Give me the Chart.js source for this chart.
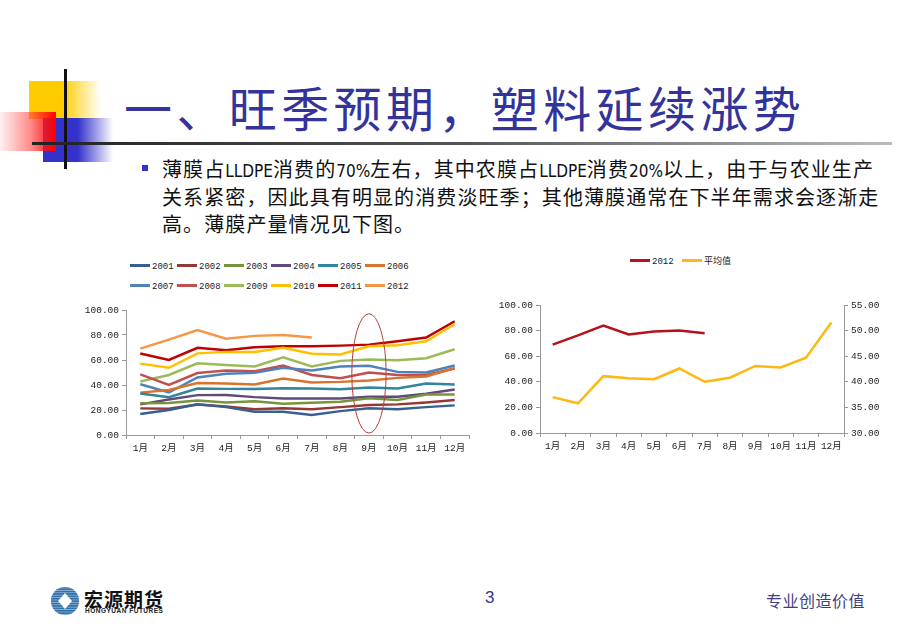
<!DOCTYPE html>
<html>
<head>
<meta charset="utf-8">
<script src="https://cdn.jsdelivr.net/npm/chart.js@4.4.0/dist/chart.umd.min.js"></script>
<style>
  body { margin: 0; background: #fff; }
  #slide { position: relative; width: 920px; height: 636px; overflow: hidden; background: #fff; font-family: "Noto Sans CJK SC", sans-serif; }
  .abs { position: absolute; }
  #yellow { left: 29px; top: 81px; width: 72px; height: 38px; background: linear-gradient(to right, #FFCC00 0%, #FFCC00 46%, rgba(255,204,0,0) 100%); }
  #blue { left: 43px; top: 118px; width: 70px; height: 44px; background: linear-gradient(to right, #3333CC 0%, #3333CC 50%, rgba(51,51,204,0) 100%); }
  #red { left: 0; top: 112px; width: 56px; height: 39px; background: linear-gradient(to right, rgba(255,0,0,0.05) 0%, rgba(255,60,60,0.6) 55%, #FF0000 100%); }
  #vline { left: 64px; top: 69px; width: 3px; height: 100px; background: #111; }
  #hline { left: 32px; top: 142px; width: 860px; height: 3px; background: linear-gradient(to right, #222 0%, #555 50%, #bbb 100%); }
  #title { left: 124px; top: 76px; font-size: 48px; letter-spacing: 4.4px; color: #333399; line-height: 60px; white-space: nowrap; }
  #bullet { left: 142px; top: 165px; width: 6px; height: 6px; background: #3333CC; }
  #body { left: 162px; top: 155px; font-size: 20px; line-height: 27.5px; color: #111; white-space: nowrap; letter-spacing: 1.1px; }
  #body .lat { font-family: "DejaVu Sans Condensed", "Liberation Sans", sans-serif; font-size: 17px; letter-spacing: 0; line-height: 16px; }
  .legend { position: absolute; font-family: "Liberation Mono", "Noto Sans CJK SC", monospace; font-size: 9px; color: #222; }
  .legend .item { position: absolute; white-space: nowrap; line-height: 12px; }
  .legend .sw { display: inline-block; width: 20px; height: 3px; vertical-align: middle; margin-right: 2px; position: relative; top: -1px; }
  #footer3 { left: 485px; top: 588px; font-size: 17px; color: #333399; font-family: "Liberation Sans", sans-serif; }
  #slogan { left: 766px; top: 588px; font-size: 16px; color: #3F3F7F; letter-spacing: 0.5px; }
  #logoText { left: 84px; top: 585px; font-size: 19px; font-weight: bold; color: #111; letter-spacing: 1px; }
  #logoSub { left: 85px; top: 607px; font-size: 6.5px; font-weight: bold; color: #222; font-family: "Liberation Sans", sans-serif; letter-spacing: 0.5px; }
</style>
</head>
<body>
<div id="slide">
  <div id="yellow" class="abs"></div>
  <div id="blue" class="abs"></div>
  <div id="red" class="abs"></div>
  <div id="vline" class="abs"></div>
  <div id="hline" class="abs"></div>
  <div id="title" class="abs">一、旺季预期，塑料延续涨势</div>
  <div id="bullet" class="abs"></div>
  <div id="body" class="abs">薄膜占<span class="lat">LLDPE</span>消费的<span class="lat">70%</span>左右，其中农膜占<span class="lat">LLDPE</span>消费<span class="lat">20%</span>以上，由于与农业生产<br>关系紧密，因此具有明显的消费淡旺季；其他薄膜通常在下半年需求会逐渐走<br>高。薄膜产量情况见下图。</div>

  <div id="legendLeft" class="legend" style="left:130px; top:261px; width:300px; height:32px;"></div>
  <div id="legendRight" class="legend" style="left:630px; top:256px; width:140px; height:14px;"></div>

  <div class="abs" style="left:75px; top:298px; width:400px; height:165px;"><canvas id="leftChart"></canvas></div>
  <div class="abs" style="left:490px; top:290px; width:400px; height:171px;"><canvas id="rightChart"></canvas></div>

  <svg class="abs" style="left:50px; top:586px;" width="30" height="30">
    <defs>
      <pattern id="stripes" width="4" height="2.4" patternUnits="userSpaceOnUse">
        <rect width="4" height="1.5" fill="#2E6DA4"/>
      </pattern>
    </defs>
    <circle cx="15" cy="15" r="14" fill="#8FB3D6"/>
    <circle cx="15" cy="15" r="14" fill="url(#stripes)"/>
    <path d="M15 7 L22 15 L15 23 L8 15 Z" fill="#fff"/>
  </svg>
  <div id="logoText" class="abs">宏源期货</div>
  <div id="logoSub" class="abs">HONGYUAN FUTURES</div>
  <div id="footer3" class="abs">3</div>
  <div id="slogan" class="abs">专业创造价值</div>
</div>

<script>
const months = ['1月', '2月', '3月', '4月', '5月', '6月', '7月', '8月', '9月', '10月', '11月', '12月'];
const years = ['2001', '2002', '2003', '2004', '2005', '2006', '2007', '2008', '2009', '2010', '2011', '2012'];

const s2001 = [16.8, 20.0, 24.5, 22.3, 18.6, 18.6, 16.0, 19.1, 21.3, 20.7, 22.3, 23.7];
const s2002 = [21.3, 21.0, 24.3, 22.9, 20.7, 21.3, 20.7, 22.3, 24.0, 24.5, 26.0, 28.0];
const s2003 = [25.4, 25.6, 27.5, 26.0, 27.0, 25.0, 25.8, 26.6, 29.3, 28.0, 32.4, 32.4];
const s2004 = [24.5, 28.4, 31.9, 32.0, 30.3, 29.3, 29.3, 29.3, 30.6, 30.6, 33.0, 36.4];
const s2005 = [33.2, 30.2, 37.2, 36.9, 36.9, 37.4, 37.2, 36.7, 38.0, 37.2, 41.2, 40.4];
const s2006 = [33.9, 36.0, 41.5, 41.2, 40.4, 45.2, 42.0, 42.5, 43.6, 45.7, 46.8, 53.5];
const s2007 = [40.6, 34.0, 46.0, 49.0, 49.7, 53.7, 51.6, 54.8, 55.3, 50.5, 50.0, 55.6];
const s2008 = [48.5, 40.0, 49.6, 51.6, 51.0, 55.6, 48.0, 45.5, 50.0, 48.0, 48.0, 53.2];
const s2009 = [42.8, 48.0, 57.3, 56.0, 54.8, 62.2, 54.8, 59.3, 60.4, 59.8, 61.4, 68.6];
const s2010 = [57.1, 53.8, 65.3, 66.5, 66.5, 69.7, 65.0, 64.4, 71.0, 71.8, 75.0, 88.6];
const s2011 = [65.2, 60.0, 69.8, 67.8, 70.2, 71.0, 71.0, 71.5, 72.3, 75.0, 78.0, 91.0];
const s2012 = [69.1, 76.3, 84.0, 77.0, 79.3, 80.0, 78.0, null, null, null, null, null];

// right chart: 2012 vs average (right axis)
const avgValues = [37.0, 35.8, 41.1, 40.7, 40.5, 42.6, 40.0, 40.8, 43.1, 42.8, 44.7, 51.6];
const rightLabels = ['2012', '平均值'];

const yearColors = ['#376092', '#953735', '#77933C', '#604A7B', '#31859C', '#D9742E',
                    '#4F81BD', '#C0504D', '#9BBB59', '#FFC000', '#C00000', '#F79646'];
const yearSeries = [s2001, s2002, s2003, s2004, s2005, s2006, s2007, s2008, s2009, s2010, s2011, s2012];

const tickFont = { family: "'Liberation Mono', 'Noto Sans CJK SC', monospace", size: 9.5 };

function axisX() {
  return {
    offset: true,
    grid: { display: true, drawOnChartArea: false, drawTicks: true, tickLength: 4, color: '#999', offset: true },
    border: { display: true, color: '#999' },
    ticks: { font: tickFont, color: '#222', padding: 4, maxRotation: 0, autoSkip: false }
  };
}

// red ellipse around September
const ellipsePlugin = {
  id: 'ellipse',
  afterDatasetsDraw(chart) {
    const x = chart.scales.x, y = chart.scales.y;
    const cx = x.getPixelForValue(8);
    const rx = (x.getPixelForValue(9) - x.getPixelForValue(8)) * 0.6;
    const top = y.getPixelForValue(97), bottom = y.getPixelForValue(1.5);
    const ctx = chart.ctx;
    ctx.save();
    ctx.beginPath();
    ctx.ellipse(cx, (top + bottom) / 2, rx, (bottom - top) / 2, 0, 0, Math.PI * 2);
    ctx.strokeStyle = '#B5403C';
    ctx.lineWidth = 1;
    ctx.stroke();
    ctx.restore();
  }
};

const leftChart = new Chart(document.getElementById('leftChart'), {
  type: 'line',
  data: {
    labels: months,
    datasets: years.map((yr, i) => ({
      label: yr,
      data: yearSeries[i],
      borderColor: yearColors[i],
      backgroundColor: yearColors[i],
      borderWidth: 2.5,
      pointRadius: 0,
      tension: 0,
      spanGaps: false
    }))
  },
  options: {
    responsive: true,
    maintainAspectRatio: false,
    animation: false,
    layout: { padding: { top: 12, right: 6, left: 0, bottom: 0 } },
    plugins: { legend: { display: false }, tooltip: { enabled: false } },
    scales: {
      x: Object.assign(axisX(), { afterFit(s) { s.height = 28; } }),
      y: {
        min: 0, max: 100,
        grid: { display: true, drawOnChartArea: false, tickLength: 4, color: '#999' },
        border: { display: true, color: '#999' },
        ticks: { stepSize: 20, font: tickFont, color: '#222', callback: v => v.toFixed(2) },
        afterFit(s) { s.width = 51; }
      }
    }
  },
  plugins: [ellipsePlugin]
});

const rightChart = new Chart(document.getElementById('rightChart'), {
  type: 'line',
  data: {
    labels: months,
    datasets: [
      { label: rightLabels[0], data: s2012, borderColor: '#B5121B', backgroundColor: '#B5121B',
        borderWidth: 2.5, pointRadius: 0, yAxisID: 'y' },
      { label: rightLabels[1], data: avgValues, borderColor: '#FDB813', backgroundColor: '#FDB813',
        borderWidth: 2.5, pointRadius: 0, yAxisID: 'y1' }
    ]
  },
  options: {
    responsive: true,
    maintainAspectRatio: false,
    animation: false,
    layout: { padding: { top: 15, right: 0, left: 0, bottom: 0 } },
    plugins: { legend: { display: false }, tooltip: { enabled: false } },
    scales: {
      x: Object.assign(axisX(), { afterFit(s) { s.height = 28; } }),
      y: {
        position: 'left', min: 0, max: 100,
        grid: { display: true, drawOnChartArea: false, tickLength: 4, color: '#999' },
        border: { display: true, color: '#999' },
        ticks: { stepSize: 20, font: tickFont, color: '#222', callback: v => v.toFixed(2) },
        afterFit(s) { s.width = 50; }
      },
      y1: {
        position: 'right', min: 30, max: 55,
        grid: { display: true, drawOnChartArea: false, tickLength: 4, color: '#999' },
        border: { display: true, color: '#999' },
        ticks: { stepSize: 5, font: tickFont, color: '#222', callback: v => v.toFixed(2) },
        afterFit(s) { s.width = 46; }
      }
    }
  }
});

// html legends built from the chart datasets
function buildLegend(chart, el, perRow, colW, rowH) {
  chart.data.datasets.forEach((ds, i) => {
    const item = document.createElement('div');
    item.className = 'item';
    item.style.left = ((i % perRow) * colW) + 'px';
    item.style.top = (Math.floor(i / perRow) * rowH) + 'px';
    const sw = document.createElement('span');
    sw.className = 'sw';
    sw.style.background = ds.borderColor;
    item.appendChild(sw);
    item.appendChild(document.createTextNode(ds.label));
    el.appendChild(item);
  });
}
buildLegend(leftChart, document.getElementById('legendLeft'), 6, 47, 20);
buildLegend(rightChart, document.getElementById('legendRight'), 2, 52, 14);
</script>
</body>
</html>
